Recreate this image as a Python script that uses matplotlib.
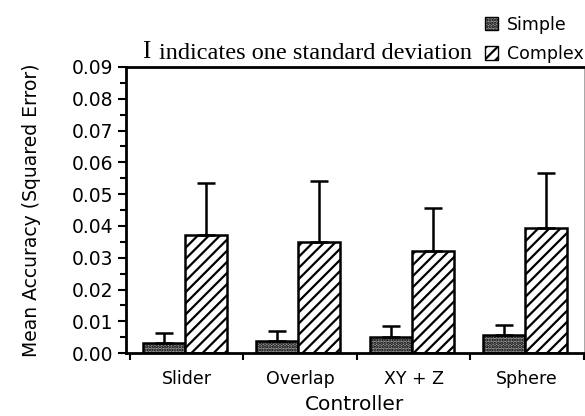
import numpy as np
import matplotlib
matplotlib.use('Agg')
import matplotlib.pyplot as plt
from matplotlib.patches import Patch
from matplotlib.ticker import MultipleLocator, FormatStrFormatter

controllers = ["Slider", "Overlap", "XY + Z", "Sphere"]
simple_mean = [0.0032, 0.0037, 0.0051, 0.0056]
simple_sd = [0.0031, 0.0033, 0.0034, 0.0034]
complex_mean = [0.0372, 0.0351, 0.0322, 0.0394]
complex_sd = [0.0164, 0.0192, 0.0133, 0.0174]

plt.rcParams['hatch.linewidth'] = 1.6
fig = plt.figure(figsize=(5.85, 4.16), dpi=100)
ax = fig.add_axes([0.215, 0.151, 0.783, 0.688])

x = np.arange(len(controllers))
w = 0.37
err_kw = dict(capsize=6.5, elinewidth=1.8, capthick=1.8, ecolor='black')
ax.bar(x - 0.2, simple_mean, w, facecolor='#9a9a9a', edgecolor='black',
       linewidth=1.8, hatch='.....',
       yerr=[np.zeros(4), simple_sd], error_kw=err_kw)
ax.bar(x + 0.17, complex_mean, w, facecolor='white', edgecolor='black',
       linewidth=1.8, hatch='///',
       yerr=[np.zeros(4), complex_sd], error_kw=err_kw)

ax.set_xlim(-0.535, 3.48)
ax.set_ylim(0, 0.09)
ax.yaxis.set_major_locator(MultipleLocator(0.01))
ax.yaxis.set_minor_locator(MultipleLocator(0.005))
ax.yaxis.set_major_formatter(FormatStrFormatter('%.2f'))
ax.tick_params(axis='y', direction='out', length=6, width=1.5, labelsize=13.5, pad=3)
ax.tick_params(axis='y', which='minor', direction='out', length=4, width=1.5)

ax.set_xticks(x)
ax.set_xticklabels(controllers)
ax.set_xticks(np.arange(-0.5, 4, 1), minor=True)
ax.tick_params(axis='x', which='major', length=0, labelsize=12.5, pad=12)
ax.tick_params(axis='x', which='minor', direction='out', length=5, width=1.5)

for s in ['left', 'bottom', 'top']:
    ax.spines[s].set_linewidth(2)
ax.spines['right'].set_linewidth(0.6)
ax.spines['right'].set_color('#999999')

ax.set_xlabel("Controller", fontsize=14.5, labelpad=5)
ax.set_ylabel("Mean Accuracy (Squared Error)", fontsize=13.5, labelpad=22)

fig.text(0.243, 0.875, "I", fontsize=18, family='Liberation Serif', va='center')
fig.text(0.272, 0.872, "indicates one standard deviation", fontsize=17.5,
         family='Liberation Serif', va='center')

handles = [Patch(facecolor='#9a9a9a', edgecolor='black', hatch='.....', label='Simple'),
           Patch(facecolor='white', edgecolor='black', hatch='///', label='Complex')]
fig.legend(handles=handles, loc='upper left', bbox_to_anchor=(0.803, 1.0),
           frameon=False, fontsize=12.5, handlelength=0.75, handleheight=0.8,
           handletextpad=0.5, labelspacing=0.65)

plt.savefig("out.png")
plt.close()
